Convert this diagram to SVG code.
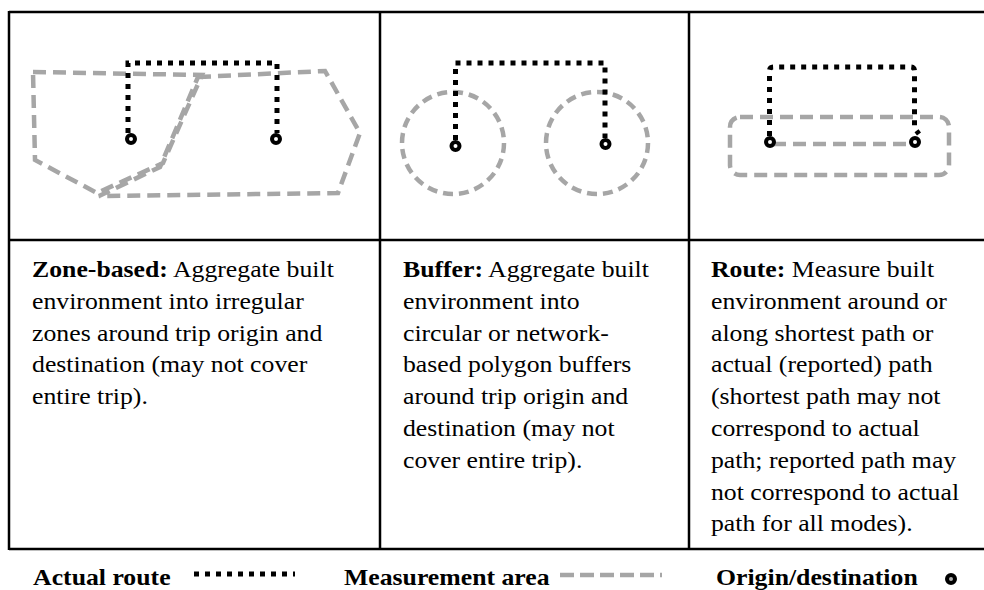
<svg xmlns="http://www.w3.org/2000/svg" width="984" height="590" viewBox="0 0 984 590">
<style>
.grid{stroke:#000;stroke-width:2.5;fill:none}
.route{stroke:#000;stroke-width:5;stroke-dasharray:5 6;fill:none}
.area{stroke:#a6a6a6;stroke-width:4.5;stroke-dasharray:13 7;fill:none}
.areac{stroke:#a6a6a6;stroke-width:4.5;stroke-dasharray:10 6;fill:none}
.od{stroke:#000;stroke-width:4;fill:#fff}
.t{font-family:"Liberation Serif","Times New Roman",serif;font-size:23px;fill:#000}
.b{font-weight:bold}
</style>
<rect x="0" y="0" width="984" height="590" fill="#fff"/>
<g id="table" class="grid">
<line x1="9" y1="12" x2="984" y2="12"/>
<line x1="9" y1="240" x2="984" y2="240"/>
<line x1="9" y1="549" x2="984" y2="549"/>
<line x1="9" y1="11" x2="9" y2="550"/>
<line x1="380" y1="12" x2="380" y2="549"/>
<line x1="689" y1="12" x2="689" y2="549"/>
</g>
<g id="panel-zone">
<polygon class="area" points="33,72 202,75 163,163 97,193 35,160"/>
<polygon class="area" points="198,77 325,71 360,133 338,193 99,196 160,167"/>
<polyline class="route" points="128,133 128,63 277,63 277,133"/>
<circle class="od" cx="131" cy="139" r="4"/>
<circle class="od" cx="276" cy="139" r="4"/>
</g>
<g id="panel-buffer">
<circle class="areac" cx="453" cy="143" r="51"/>
<circle class="areac" cx="597" cy="143" r="51"/>
<polyline class="route" points="455.5,140 455.5,63 605,63 605,138"/>
<circle class="od" cx="455.5" cy="146" r="4"/>
<circle class="od" cx="605.5" cy="144" r="4"/>
</g>
<g id="panel-route">
<rect class="area" x="730" y="117" width="219" height="58" rx="10"/>
<line class="area" x1="773" y1="144" x2="913" y2="144"/>
<path class="route" d="M769.5,136 L769.5,71 Q769.5,67 773.5,67 L910.5,67 Q914.5,67 914.5,71 L914.5,128 L919,134"/>
<circle class="od" cx="770" cy="142" r="4"/>
<circle class="od" cx="915" cy="142" r="4"/>
</g>
<g id="descriptions" transform="scale(1.12,1)">
<text class="t" x="28.6" y="277"><tspan class="b">Zone-based:</tspan> Aggregate built</text>
<text class="t" x="28.6" y="308.8">environment into irregular</text>
<text class="t" x="28.6" y="340.6">zones around trip origin and</text>
<text class="t" x="28.6" y="372.4">destination (may not cover</text>
<text class="t" x="28.6" y="404.2">entire trip).</text>
<text class="t" x="359.8" y="277"><tspan class="b">Buffer:</tspan> Aggregate built</text>
<text class="t" x="359.8" y="308.8">environment into</text>
<text class="t" x="359.8" y="340.6">circular or network-</text>
<text class="t" x="359.8" y="372.4">based polygon buffers</text>
<text class="t" x="359.8" y="404.2">around trip origin and</text>
<text class="t" x="359.8" y="436">destination (may not</text>
<text class="t" x="359.8" y="467.8">cover entire trip).</text>
<text class="t" x="634.8" y="277"><tspan class="b">Route:</tspan> Measure built</text>
<text class="t" x="634.8" y="308.8">environment around or</text>
<text class="t" x="634.8" y="340.6">along shortest path or</text>
<text class="t" x="634.8" y="372.4">actual (reported) path</text>
<text class="t" x="634.8" y="404.2">(shortest path may not</text>
<text class="t" x="634.8" y="436">correspond to actual</text>
<text class="t" x="634.8" y="467.8">path; reported path may</text>
<text class="t" x="634.8" y="499.6">not correspond to actual</text>
<text class="t" x="634.8" y="531.4">path for all modes).</text>
</g>
<g id="legend">
<g transform="scale(1.12,1)">
<text class="t b" x="29.5" y="585">Actual route</text>
<text class="t b" x="307.1" y="585">Measurement area</text>
<text class="t b" x="639.3" y="585">Origin/destination</text>
</g>
<line class="route" x1="194" y1="574" x2="295" y2="574"/>
<line stroke="#a6a6a6" stroke-width="4.5" stroke-dasharray="14 6" x1="560" y1="575" x2="662" y2="575"/>
<circle cx="951" cy="579" r="4" stroke="#000" stroke-width="4" fill="#b0b0b0"/>
</g>
</svg>
